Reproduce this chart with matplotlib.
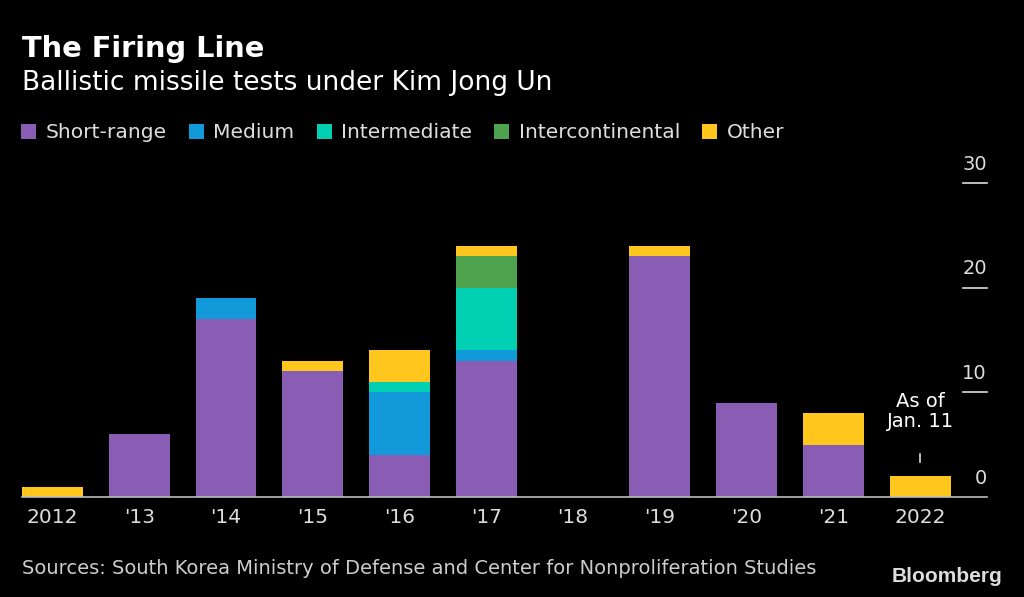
import numpy as np
import matplotlib
matplotlib.use("Agg")
import matplotlib.pyplot as plt

years = ["2012", "'13", "'14", "'15", "'16", "'17", "'18", "'19", "'20", "'21", "2022"]
short_range = [0, 6, 17, 12, 4, 13, 0, 23, 9, 5, 0]
medium = [0, 0, 2, 0, 6, 1, 0, 0, 0, 0, 0]
intermediate = [0, 0, 0, 0, 1, 6, 0, 0, 0, 0, 0]
intercontinental = [0, 0, 0, 0, 0, 3, 0, 0, 0, 0, 0]
other = [1, 0, 0, 1, 3, 1, 0, 1, 0, 3, 2]

series = [
    ("Short-range", short_range, "#8a5db4"),
    ("Medium", medium, "#1199d9"),
    ("Intermediate", intermediate, "#00cfb2"),
    ("Intercontinental", intercontinental, "#4fa34e"),
    ("Other", other, "#ffc61d"),
]

plt.rcParams["font.family"] = ["DejaVu Sans"]

W, H = 1024, 597
fig = plt.figure(figsize=(W / 100, H / 100), dpi=100, facecolor="black")
ax = fig.add_axes([22 / W, 1 - 497 / H, (987 - 22) / W, (497 - 183) / H], facecolor="black")

x = np.arange(len(years))
bottom = np.zeros(len(years))
for name, vals, col in series:
    ax.bar(x, vals, width=0.7, bottom=bottom, color=col, label=name)
    bottom += np.array(vals)

ax.set_xlim(-0.35, 10.77)
ax.set_ylim(0, 30)
for s in ["top", "left", "right"]:
    ax.spines[s].set_visible(False)
ax.spines["bottom"].set_color("#bbbbbb")
ax.spines["bottom"].set_linewidth(1.2)
ax.set_yticks([])
ax.set_xticks(x)
ax.set_xticklabels(years, color="#dddddd", fontsize=14.5)
ax.tick_params(axis="x", length=0, pad=8)

# y labels sitting on short lines at the right edge
for v in [0, 10, 20, 30]:
    if v > 0:
        ax.plot([0.975, 1.0], [v, v], color="#dddddd", lw=1.2,
                transform=ax.get_yaxis_transform(), clip_on=False)
    ax.text(1.0, v + 0.9, str(v), transform=ax.get_yaxis_transform(),
            ha="right", va="bottom", color="#dddddd", fontsize=14)

ax.text(10, 6.3, "As of\nJan. 11", ha="center", va="bottom",
        color="white", fontsize=14, linespacing=1.1)
ax.plot([10, 10], [3.3, 4.1], color="#dddddd", lw=1.2)

fig.text(22 / W, 1 - 49 / H, "The Firing Line", color="white", fontsize=20.8,
         fontweight="bold", va="center", ha="left")
fig.text(22 / W, 1 - 83 / H, "Ballistic missile tests under Kim Jong Un", color="white",
         fontsize=19, va="center", ha="left")

leg = ax.legend(loc="center left", ncol=5, frameon=False, handlelength=0.75,
                handleheight=0.75, handletextpad=0.45, columnspacing=1.1,
                borderaxespad=0, borderpad=0, prop={"size": 14.6})
leg.set_bbox_to_anchor((21 / W, 1 - 133 / H), transform=fig.transFigure)
for t in leg.get_texts():
    t.set_color("#dddddd")

fig.text(22 / W, 1 - 568 / H, "Sources: South Korea Ministry of Defense and Center for Nonproliferation Studies",
         color="#cccccc", fontsize=14, va="center", ha="left")
fig.text(1002 / W, 1 - 577 / H, "Bloomberg", color="#dddddd", fontsize=15,
         fontweight="bold", va="center", ha="right", family=["Liberation Sans", "DejaVu Sans"])

fig.savefig("out.png", dpi=100, facecolor="black")
